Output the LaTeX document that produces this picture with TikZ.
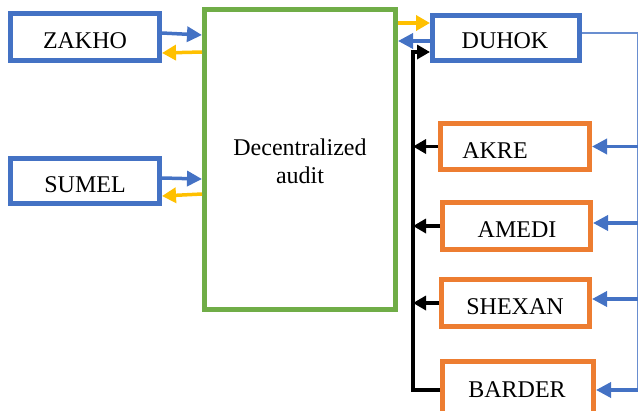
\documentclass[tikz,border=0pt]{standalone}
\usepackage{fontspec}
\setmainfont{Liberation Serif}
\usetikzlibrary{arrows.meta,calc}
\definecolor{cblue}{HTML}{4472C4}
\definecolor{corange}{HTML}{ED7D31}
\definecolor{cgreen}{HTML}{70AD47}
\definecolor{cyellow}{HTML}{FFC000}
\begin{document}
\begin{tikzpicture}[x=1pt,y=-1pt,
  font=\fontsize{24}{28}\selectfont,
  box/.style={draw, rectangle, line width=5pt, inner sep=0pt, fill=white},
  bluebox/.style={box, draw=cblue},
  orangebox/.style={box, draw=corange},
  greenbox/.style={box, draw=cgreen},
  lbl/.style={anchor=base, inner sep=0pt, text=black},
  arr/.style={line width=3.5pt, -{Triangle[length=14pt,width=15pt]}},
  blarr/.style={arr, draw=cblue, -{Triangle[length=15pt,width=15pt]}},
  yarr/.style={arr, draw=cyellow},
  karr/.style={arr, draw=black, -{Triangle[length=13pt,width=14pt]}},
  thinblue/.style={draw=cblue!80, line width=1.8pt}
]
\useasboundingbox (0,0) rectangle (639,410);
% boxes
\node[greenbox, minimum width=191pt, minimum height=300pt] (audit) at (300,159.5) {};
\node[bluebox, minimum width=149pt, minimum height=47pt] (zakho) at (85,37) {};
\node[bluebox, minimum width=149pt, minimum height=45pt] (sumel) at (85,181) {};
\node[bluebox, minimum width=147pt, minimum height=45pt] (duhok) at (506,38) {};
\node[orangebox, minimum width=149pt, minimum height=46pt] (akre) at (515,146.5) {};
\node[orangebox, minimum width=148pt, minimum height=47pt] (amedi) at (516.5,226) {};
\node[orangebox, minimum width=148pt, minimum height=47pt] (shexan) at (515.5,303) {};
\node[orangebox, minimum width=151pt, minimum height=57pt] (barder) at (518,390) {};
% labels
\node[align=center, inner sep=0pt] (audittxt) at (300,161) {Decentralized\\audit};
\node[lbl] (zakhot) at (85,48) {ZAKHO};
\node[lbl] (sumelt) at (85,192) {SUMEL};
\node[lbl] (duhokt) at (505,48) {DUHOK};
\node[lbl] (akret) at (495,158) {AKRE};
\node[lbl] (amedit) at (517,237) {AMEDI};
\node[lbl] (shexant) at (515,314) {SHEXAN};
\node[lbl] (bardert) at (517,397) {BARDER};
% left connectors
\draw[blarr] ($(zakho.east)+(0,-4)$) -- ($(zakho.east -| audit.west)+(0,-2)$);
\draw[yarr] ($(zakho.east -| audit.west)+(0,15)$) -- ($(zakho.east)+(0,16)$);
\draw[blarr] ($(sumel.east)+(0,-3)$) -- ($(sumel.east -| audit.west)+(0,-2)$);
\draw[yarr] ($(sumel.east -| audit.west)+(0,13)$) -- ($(sumel.east)+(0,15)$);
% duhok connectors
\draw[yarr] ($(duhok.west -| audit.east)+(0,-15)$) -- ($(duhok.west)+(0,-15)$);
\draw[blarr] ($(duhok.west)+(0,3)$) -- ($(duhok.west -| audit.east)+(0,3)$);
% black spine
\coordinate (spine) at (413,52);
\draw[karr, line cap=butt] (barder.west) -| (spine) -- (spine -| duhok.west);
\draw[karr] (akre.west) -- (akre.west -| spine);
\draw[karr] (amedi.west) -- (amedi.west -| spine);
\draw[karr] (shexan.west) -- (shexan.west -| spine);
% right blue line
\coordinate (rtop) at (637.5,33);
\draw[thinblue] (rtop -| duhok.east) -- (rtop) -- (rtop |- barder.east);
\draw[blarr] (rtop |- akre.east) -- (akre.east);
\draw[blarr] ($(rtop |- amedi.east)+(0,-3)$) -- ($(amedi.east)+(0,-3)$);
\draw[blarr] ($(rtop |- shexan.east)+(0,-4)$) -- ($(shexan.east)+(0,-4)$);
\draw[blarr] (rtop |- barder.east) -- (barder.east);
\end{tikzpicture}
\end{document}
